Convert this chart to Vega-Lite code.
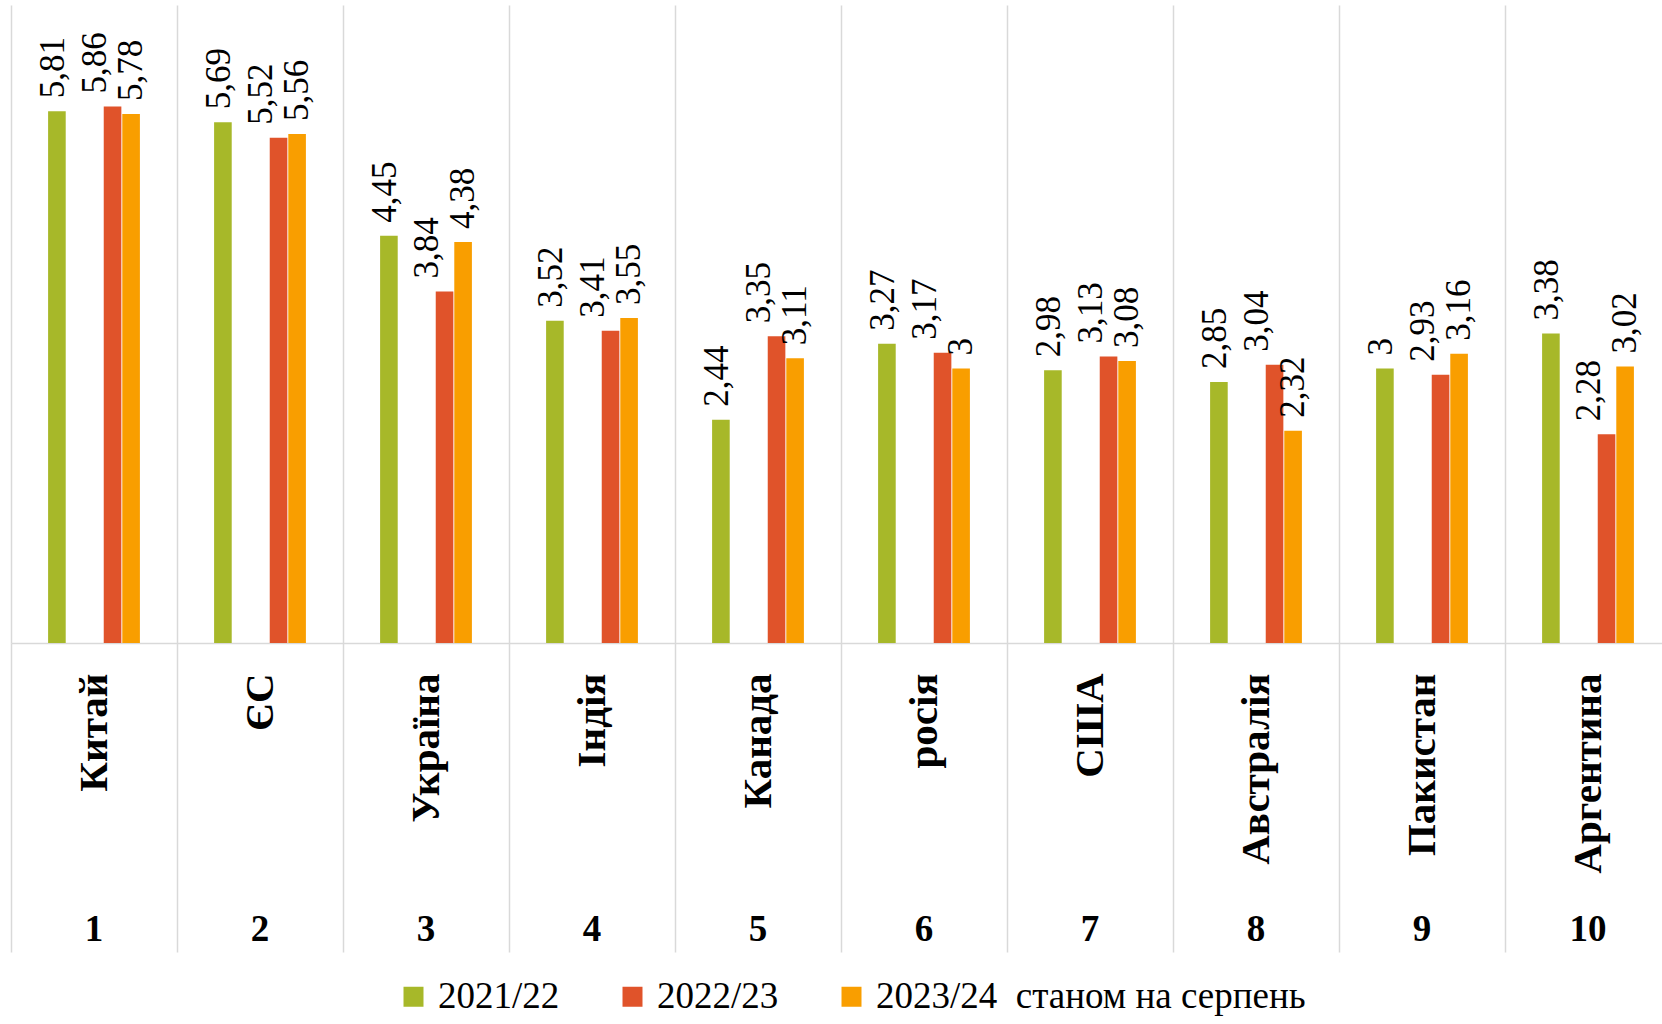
{
  "$schema": "https://vega.github.io/schema/vega-lite/v6.json",
  "width": 1660,
  "height": 638,
  "autosize": {"type": "none"},
  "padding": {"left": 11, "top": 5, "right": -9, "bottom": 381},
  "background": "white",
  "config": {
    "view": {"stroke": null},
    "locale": {"number": {"decimal": ",", "thousands": " ", "grouping": [3], "currency": ["", ""]}}
  },
  "data": {
    "values": [
      {"country": "Китай", "s": "2021/22", "v": 5.81},
      {"country": "Китай", "s": "2022/23", "v": 5.86},
      {"country": "Китай", "s": "2023/24  станом на серпень", "v": 5.78},
      {"country": "ЄС", "s": "2021/22", "v": 5.69},
      {"country": "ЄС", "s": "2022/23", "v": 5.52},
      {"country": "ЄС", "s": "2023/24  станом на серпень", "v": 5.56},
      {"country": "Україна", "s": "2021/22", "v": 4.45},
      {"country": "Україна", "s": "2022/23", "v": 3.84},
      {"country": "Україна", "s": "2023/24  станом на серпень", "v": 4.38},
      {"country": "Індія", "s": "2021/22", "v": 3.52},
      {"country": "Індія", "s": "2022/23", "v": 3.41},
      {"country": "Індія", "s": "2023/24  станом на серпень", "v": 3.55},
      {"country": "Канада", "s": "2021/22", "v": 2.44},
      {"country": "Канада", "s": "2022/23", "v": 3.35},
      {"country": "Канада", "s": "2023/24  станом на серпень", "v": 3.11},
      {"country": "росія", "s": "2021/22", "v": 3.27},
      {"country": "росія", "s": "2022/23", "v": 3.17},
      {"country": "росія", "s": "2023/24  станом на серпень", "v": 3},
      {"country": "США", "s": "2021/22", "v": 2.98},
      {"country": "США", "s": "2022/23", "v": 3.13},
      {"country": "США", "s": "2023/24  станом на серпень", "v": 3.08},
      {"country": "Австралія", "s": "2021/22", "v": 2.85},
      {"country": "Австралія", "s": "2022/23", "v": 3.04},
      {"country": "Австралія", "s": "2023/24  станом на серпень", "v": 2.32},
      {"country": "Пакистан", "s": "2021/22", "v": 3},
      {"country": "Пакистан", "s": "2022/23", "v": 2.93},
      {"country": "Пакистан", "s": "2023/24  станом на серпень", "v": 3.16},
      {"country": "Аргентина", "s": "2021/22", "v": 3.38},
      {"country": "Аргентина", "s": "2022/23", "v": 2.28},
      {"country": "Аргентина", "s": "2023/24  станом на серпень", "v": 3.02}
    ]
  },
  "encoding": {
    "xOffset": {
      "field": "s",
      "scale": {
        "domain": ["p1", "p2", "2021/22", "e1", "e2", "2022/23", "2023/24  станом на серпень", "p3", "p4"],
        "paddingInner": 0.05,
        "paddingOuter": 0
      }
    },
    "y": {
      "field": "v",
      "type": "quantitative",
      "scale": {"domain": [0, 6.97], "nice": false, "zero": true},
      "axis": null
    }
  },
  "layer": [
    {
      "mark": {"type": "bar"},
      "encoding": {
        "x": {
          "field": "country",
          "type": "nominal",
          "sort": null,
          "scale": {"paddingInner": 0, "paddingOuter": 0},
          "axis": {
            "orient": "bottom",
            "title": null,
            "grid": true,
            "gridColor": "#d9d9d9",
            "gridWidth": 1.5,
            "tickBand": "extent",
            "ticks": true,
            "tickSize": 309,
            "tickColor": "#d9d9d9",
            "tickWidth": 1.5,
            "domainColor": "#d9d9d9",
            "domainWidth": 1.5,
            "labelAngle": 270,
            "labelAlign": "right",
            "labelBaseline": "middle",
            "labelPadding": -279,
            "labelFont": "Liberation Serif, Times New Roman, DejaVu Serif, serif",
            "labelFontWeight": "bold",
            "labelFontSize": 41,
            "labelColor": "black",
            "labelLimit": 0,
            "labelOverlap": false
          }
        },
        "color": {
          "field": "s",
          "type": "nominal",
          "scale": {
            "domain": ["2021/22", "2022/23", "2023/24  станом на серпень"],
            "range": ["#a7b829", "#e0532a", "#f99e00"]
          },
          "legend": {
            "orient": "none",
            "legendX": 384,
            "legendY": 973,
            "direction": "horizontal",
            "title": null,
            "symbolType": "square",
            "symbolSize": 400,
            "symbolStrokeWidth": 0,
            "labelFont": "Liberation Serif, Times New Roman, DejaVu Serif, serif",
            "labelFontSize": 37,
            "labelColor": "black",
            "labelLimit": 0,
            "labelOffset": 6,
            "columnPadding": 54,
            "labelExpr": "replace(datum.label, '  ', '\u00a0\u00a0')"
          }
        }
      }
    },
    {
      "transform": [{"filter": "datum.s == '2021/22'"}],
      "mark": {"type": "text", "angle": 270, "align": "left", "baseline": "middle", "dx": 13, "dy": -4, "font": "Liberation Serif, Times New Roman, DejaVu Serif, serif", "fontSize": 35, "color": "black"},
      "encoding": {
        "x": {
          "field": "country",
          "type": "nominal",
          "sort": null,
          "axis": {
            "orient": "bottom",
            "title": null,
            "grid": false,
            "ticks": false,
            "domain": false,
            "labelAngle": 0,
            "labelAlign": "center",
            "labelBaseline": "top",
            "labelPadding": 268,
            "labelExpr": "round(datum.index*9)+1",
            "labelFont": "Liberation Serif, Times New Roman, DejaVu Serif, serif",
            "labelFontWeight": "bold",
            "labelFontSize": 37,
            "labelColor": "black",
            "labelOverlap": false
          }
        },
        "text": {"field": "v", "type": "quantitative", "format": ".2~f"}
      }
    },
    {
      "transform": [{"filter": "datum.s == '2022/23'"}],
      "mark": {"type": "text", "angle": 270, "align": "left", "baseline": "middle", "dx": 13, "dy": -18, "font": "Liberation Serif, Times New Roman, DejaVu Serif, serif", "fontSize": 35, "color": "black"},
      "encoding": {
        "x": {"field": "country", "type": "nominal", "sort": null, "axis": null},
        "text": {"field": "v", "type": "quantitative", "format": ".2~f"}
      }
    },
    {
      "transform": [{"filter": "datum.s != '2021/22' && datum.s != '2022/23'"}],
      "mark": {"type": "text", "angle": 270, "align": "left", "baseline": "middle", "dx": 13, "dy": 0, "font": "Liberation Serif, Times New Roman, DejaVu Serif, serif", "fontSize": 35, "color": "black"},
      "encoding": {
        "x": {"field": "country", "type": "nominal", "sort": null, "axis": null},
        "text": {"field": "v", "type": "quantitative", "format": ".2~f"}
      }
    }
  ],
  "resolve": {"axis": {"x": "independent"}}
}
